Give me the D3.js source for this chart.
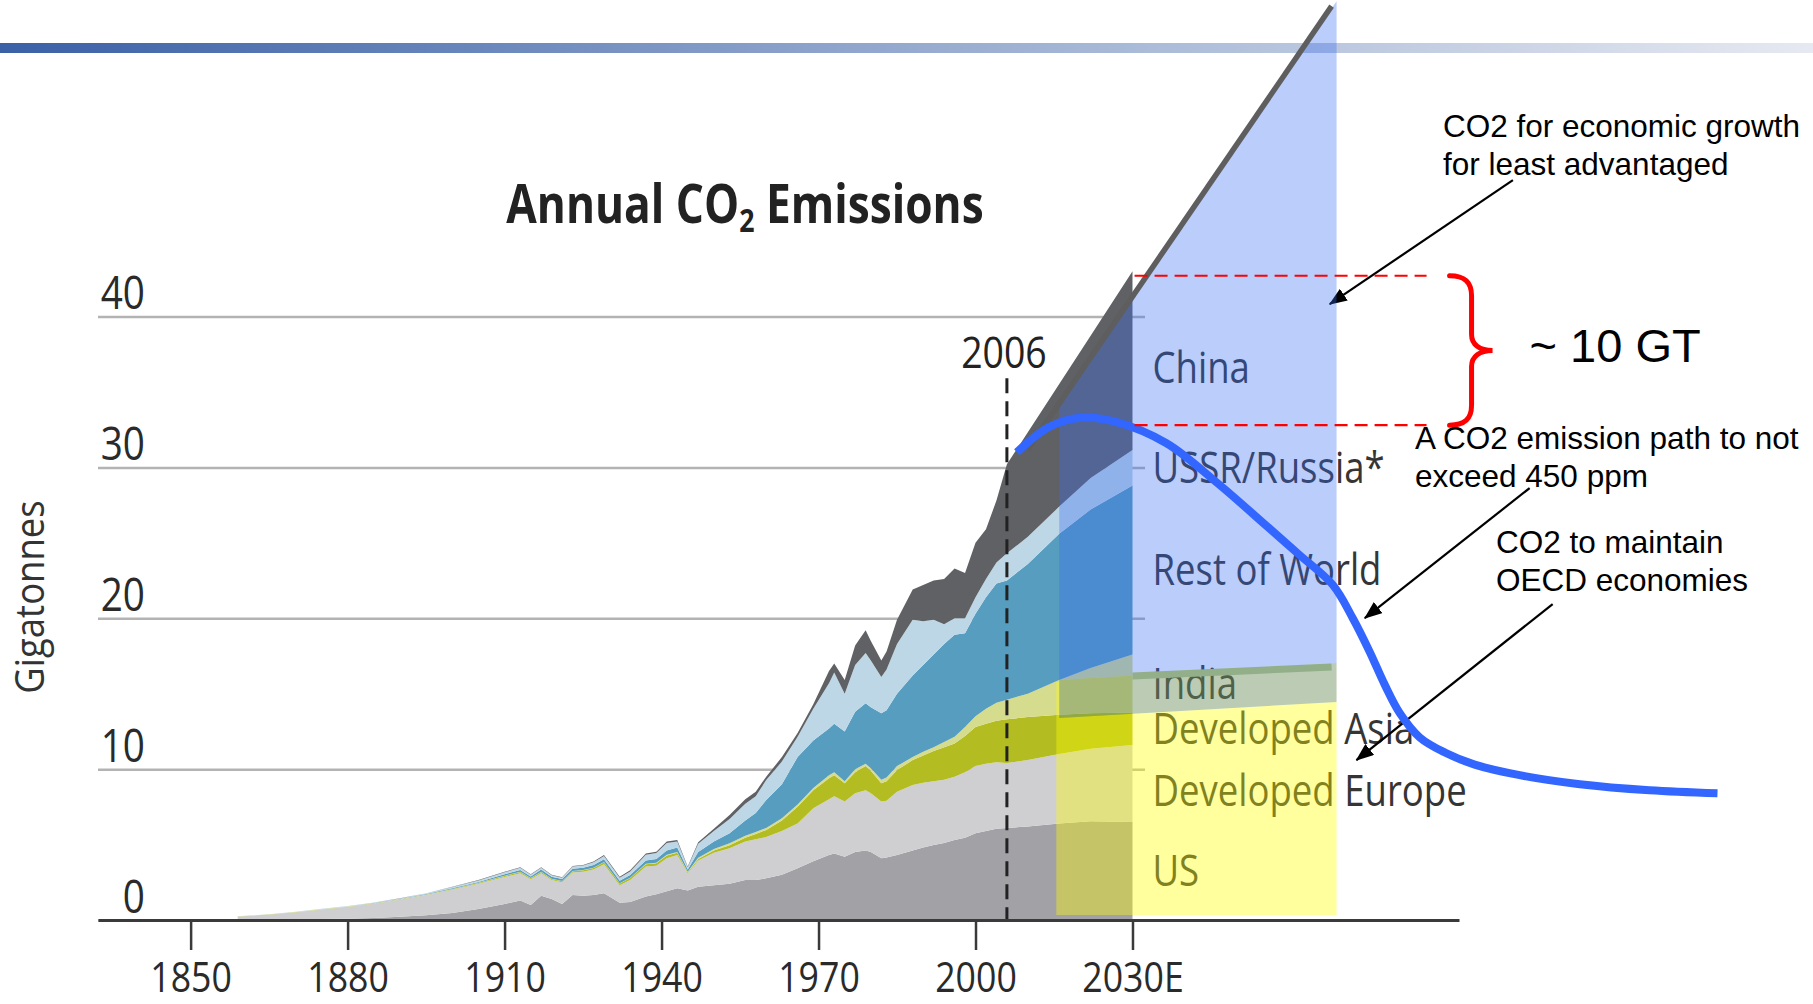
<!DOCTYPE html>
<html>
<head>
<meta charset="utf-8">
<script src="https://cdn.jsdelivr.net/npm/d3@7"></script>
<style>
  html, body { margin: 0; padding: 0; background: #fff; }
  svg { display: block; }
</style>
</head>
<body>
<svg id="chart" width="1813" height="1004"></svg>
<script>
// ---- Annual CO2 emissions by region, Gt (history to 2006, projection to 2030) ----
const years = [1859,1865,1870,1875,1880,1885,1890,1895,1900,1905,
               1910,1913,1915,1917,1919,1921,1923,1925,1927,1929,
               1932,1934,1937,1939,1941,1943,1945,1947,1950,1953,
               1956,1958,1960,1963,1966,1969,1972,1973,1975,1977,
               1979,1980,1982,1983,1985,1988,1990,1992,1994,1996,
               1998,2000,2002,2004,2006,2010,2016,2022,2030];

const us = [.02,.03,.05,.07,.09,.14,.22,.32,.46,.73,
            1.06,1.30,1.00,1.60,1.40,1.06,1.66,1.60,1.66,1.77,
            1.15,1.20,1.55,1.70,1.90,2.10,1.95,2.20,2.30,2.40,
            2.65,2.65,2.76,3.00,3.43,3.90,4.30,4.40,4.20,4.50,
            4.60,4.50,4.10,4.15,4.30,4.60,4.80,4.97,5.10,5.30,
            5.45,5.75,5.90,6.05,6.10,6.20,6.40,6.55,6.50];

const developedEurope = [.20,.32,.45,.61,.77,.94,1.12,1.33,1.54,1.67,
            1.79,1.80,1.70,1.50,1.25,1.44,1.49,1.60,1.69,1.93,
            1.15,1.45,2.00,1.90,2.20,2.20,1.15,1.75,2.15,2.35,
            2.55,2.70,2.74,2.90,2.97,3.50,3.70,3.80,3.65,3.90,
            4.00,3.90,3.75,3.75,4.20,4.35,4.30,4.23,4.20,4.20,
            4.35,4.45,4.45,4.40,4.30,4.40,4.60,4.80,5.10];

const developedAsia = [.01,.01,.02,.02,.02,.02,.02,.03,.04,.05,
            .07,.08,.06,.08,.07,.07,.08,.09,.10,.12,
            .12,.13,.15,.16,.18,.15,.06,.10,.15,.20,
            .25,.35,.47,.70,1.10,1.20,1.40,1.40,1.21,1.40,
            1.60,1.50,1.21,1.30,1.44,1.65,1.80,2.00,2.15,2.20,
            2.40,2.60,2.65,2.75,2.90,2.85,2.60,2.35,2.15];

const india = [.01,.01,.01,.01,.01,.01,.01,.01,.02,.02,
            .02,.02,.02,.02,.02,.02,.02,.02,.02,.02,
            .02,.02,.03,.03,.04,.05,.04,.07,.10,.13,
            .13,.13,.13,.15,.15,.15,.20,.20,.14,.20,
            .15,.15,.24,.25,.26,.20,.25,.25,.35,.45,
            .60,.70,1.00,1.20,1.30,1.55,2.30,3.00,3.85];

const restOfWorld = [.00,.00,.00,.01,.01,.02,.02,.03,.04,.05,
            .09,.12,.10,.15,.12,.13,.15,.15,.17,.18,
            .16,.18,.22,.26,.28,.30,.14,.38,.50,.67,
            1.02,1.27,1.85,2.25,3.15,3.15,3.10,3.20,3.30,3.80,
            4.01,4.05,4.40,4.45,4.80,5.40,5.75,6.15,6.50,6.75,
            6.20,6.80,7.40,7.90,7.90,8.60,9.70,10.50,11.20];

const ussrRussia = [.01,.01,.02,.02,.03,.03,.04,.05,.08,.10,
            .13,.14,.12,.12,.11,.08,.14,.15,.18,.22,
            .20,.24,.37,.39,.50,.40,.15,.55,.70,.95,
            1.10,1.10,1.33,1.50,1.35,2.10,3.00,3.40,2.50,3.10,
            3.34,3.10,2.40,2.70,3.30,3.70,2.90,2.30,1.30,1.10,
            1.00,1.10,1.20,1.40,1.80,1.80,1.80,2.10,2.35];

const china = [.00,.00,.00,.00,.00,.00,.01,.01,.02,.03,
            .04,.04,.03,.03,.03,.03,.04,.04,.05,.06,
            .07,.08,.08,.09,.10,.10,.05,.10,.15,.26,
            .30,.30,.22,.30,.25,.30,.80,.60,.90,1.30,
            1.50,1.30,1.10,1.20,1.60,2.00,2.40,2.60,3.00,3.30,
            3.00,3.60,3.30,4.10,5.90,6.93,8.13,9.43,11.85];

const seriesNames  = ["US", "Developed Europe", "Developed Asia", "India",
                      "Rest of World", "USSR/Russia*", "China"];
const seriesValues = [us, developedEurope, developedAsia, india, restOfWorld, ussrRussia, china];
const seriesColors = ["#a2a1a6", "#cfcfd1", "#b3bd22", "#d6dc8e", "#569dbf", "#bed7e6", "#606164"];

// axis ticks
const xTicks      = [1850, 1880, 1910, 1940, 1970, 2000, 2030];
const xTickLabels = ["1850", "1880", "1910", "1940", "1970", "2000", "2030E"];
const yTicks      = [0, 10, 20, 30, 40];
const markerYear  = 2006;

// 450 ppm emission path (year, Gt)
const pathYears  = [2007.9, 2014.2, 2020.5, 2027.0, 2036.5, 2046.1, 2055.7, 2061.9, 2068.3, 2072.1,
                    2075.3, 2078.2, 2081.1, 2084.9, 2089.7, 2095.4, 2104.0, 2115.5, 2128.8, 2141.8];
const pathValues = [31.0, 32.7, 33.3, 33.0, 31.6, 29.0, 26.1, 24.2, 22.2, 20.0,
                    17.8, 15.6, 13.7, 12.1, 11.1, 10.3, 9.6, 9.0, 8.6, 8.4];

// business-as-usual extension line (year, Gt)
const trendYears  = [2010, 2068.05];
const trendValues = [31.2, 60.57];

// shaded budget regions (year, Gt)
const growthZone   = [[2016.0, 34.3], [2069.0, 60.9], [2069.0, 17.03], [2016.0, 15.9]];
const indiaZone    = [[2016.0, 15.9], [2069.0, 17.03], [2069.0, 14.45], [2016.0, 13.39]];
const indiaEdge    = [[2030.0, 16.17], [2068.05, 16.77]];
const oecdZone     = [[2015.45, 15.77], [2016.0, 15.77], [2016.0, 13.39], [2069.0, 14.45],
                      [2069.0, 0.33], [2015.45, 0.33]];

// gap between projected 2030 total and the 450 ppm path peak
const gapLevels = [42.7, 32.8];
const gapSpan   = [2030.4, 2086.2];
const gapLabel  = "~ 10 GT";

// callouts: text lines, arrow from (year, Gt) to (year, Gt)
const callouts = [
  { lines: ["CO2 for economic growth", "for least advantaged"], from: [2102.7, 49.04], to: [2067.7, 40.82] },
  { lines: ["A CO2 emission path to not", "exceed 450 ppm"],       from: [2105.9, 28.63], to: [2074.4, 20.01] },
  { lines: ["CO2 to maintain", "OECD economies"],                  from: [2110.3, 20.94], to: [2072.8, 10.60] }
];

// ---------------------------------------------------------------------------
const svg = d3.select("#chart");
const chartFont = "'Open Sans', 'Noto Sans', 'DejaVu Sans', sans-serif";
const noteFont  = "'Liberation Sans', Arial, sans-serif";

const x = d3.scaleLinear().domain([1832.3, 2092.4]).range([98, 1459]);
const y = d3.scaleLinear().domain([0, 40]).range([920, 316.5]);
const pt = d => [x(d[0]), y(d[1])];

const defs = svg.append("defs");
const band = defs.append("linearGradient").attr("id", "band")
  .attr("x1", 0).attr("x2", 1).attr("y1", 0).attr("y2", 0);
band.append("stop").attr("offset", "0%").attr("stop-color", "#3a60a6");
band.append("stop").attr("offset", "50%").attr("stop-color", "#95aacf");
band.append("stop").attr("offset", "100%").attr("stop-color", "#e6e9f1");

defs.append("marker").attr("id", "head")
  .attr("viewBox", "0 0 18 14").attr("refX", 17).attr("refY", 7)
  .attr("markerWidth", 18).attr("markerHeight", 14)
  .attr("markerUnits", "userSpaceOnUse").attr("orient", "auto")
  .append("path").attr("d", "M0,0L18,7L0,14Z").attr("fill", "#000");

// slide header band
svg.append("rect").attr("x", 0).attr("y", 43).attr("width", 1813).attr("height", 10)
  .attr("fill", "url(#band)");

// y axis: gridlines + labels
const yAxis = svg.append("g").attr("transform", "translate(98,0)")
  .call(d3.axisLeft(y).tickValues(yTicks).tickSize(-(1145 - 98)).tickSizeOuter(0));
yAxis.select(".domain").remove();
yAxis.selectAll(".tick line").attr("stroke", "#b3b3b3").attr("stroke-width", 2.5);
yAxis.selectAll(".tick text")
  .attr("x", null).attr("dy", null)
  .attr("transform", "translate(47,-8) scale(0.86,1)")
  .attr("text-anchor", "end")
  .attr("font-family", chartFont).attr("font-size", 45).attr("fill", "#2a2a2a");

// stacked areas
const table = years.map((yr, i) => {
  const row = { year: yr };
  seriesNames.forEach((k, j) => row[k] = seriesValues[j][i]);
  return row;
});
const stacked = d3.stack().keys(seriesNames)(table);
const area = d3.area()
  .x(d => x(d.data.year)).y0(d => y(d[0])).y1(d => y(d[1]));
svg.append("g").selectAll("path").data(stacked).join("path")
  .attr("d", area).attr("fill", (d, i) => seriesColors[i]);

// region labels beside the 2030 column
const labelNudge = { "China": 7, "Developed Europe": 8 };
const last = stacked.map(s => s[s.length - 1]);
svg.append("g").selectAll("text").data(stacked).join("text")
  .attr("transform", (s, i) => {
    const mid = (last[i][0] + last[i][1]) / 2;
    return `translate(${x(2030) + 20},${y(mid) + 15 + (labelNudge[s.key] || 0)}) scale(0.85,1)`;
  })
  .attr("font-family", chartFont).attr("font-size", 43).attr("fill", "#353535")
  .text(s => s.key);

// 2006 marker
svg.append("line")
  .attr("x1", x(markerYear)).attr("x2", x(markerYear))
  .attr("y1", y(35.9)).attr("y2", y(0))
  .attr("stroke", "#222").attr("stroke-width", 3).attr("stroke-dasharray", "15,8");
svg.append("text")
  .attr("transform", `translate(${x(markerYear) - 3},${y(36.6)}) scale(0.87,1)`)
  .attr("text-anchor", "middle").attr("font-family", chartFont)
  .attr("font-size", 43).attr("fill", "#222").text(String(markerYear));

// callout arrows (first one sits under the shaded region)
const arrows = svg.append("g");
callouts.forEach(c => {
  const a = pt(c.from), b = pt(c.to);
  arrows.append("line").attr("x1", a[0]).attr("y1", a[1]).attr("x2", b[0]).attr("y2", b[1])
    .attr("stroke", "#000").attr("stroke-width", 2.2).attr("marker-end", "url(#head)");
});

// shaded regions
const poly = d3.line().x(d => x(d[0])).y(d => y(d[1]));
svg.append("path").attr("d", poly(oecdZone) + "Z").attr("fill", "rgb(255,255,0)").attr("fill-opacity", 0.38);
svg.append("path").attr("d", poly(indiaZone) + "Z").attr("fill", "rgb(110,145,95)").attr("fill-opacity", 0.47);
svg.append("path").attr("d", poly(growthZone) + "Z").attr("fill", "rgb(56,107,243)").attr("fill-opacity", 0.34);
svg.append("path").attr("d", poly(indiaEdge)).attr("stroke", "#92af89").attr("stroke-width", 7).attr("fill", "none");

// trend extension
svg.append("path")
  .attr("d", poly(trendYears.map((t, i) => [t, trendValues[i]])))
  .attr("stroke", "#5e5e5e").attr("stroke-width", 5.5).attr("fill", "none");

// 450 ppm path
svg.append("path")
  .attr("d", d3.line().curve(d3.curveCatmullRom.alpha(0.5))
    .x(d => x(d[0])).y(d => y(d[1]))(pathYears.map((t, i) => [t, pathValues[i]])))
  .attr("stroke", "#3366ff").attr("stroke-width", 8).attr("fill", "none");

// gap markers
svg.append("g").selectAll("line").data(gapLevels).join("line")
  .attr("x1", x(gapSpan[0])).attr("x2", x(gapSpan[1]))
  .attr("y1", d => y(d)).attr("y2", d => y(d))
  .attr("stroke", "#ff0000").attr("stroke-width", 2.2).attr("stroke-dasharray", "13,7");

const bx = x(gapSpan[1]) + 23, yt = y(gapLevels[0]), yb = y(gapLevels[1]), ym = (yt + yb) / 2;
svg.append("path")
  .attr("d", `M${bx},${yt} C${bx + 15},${yt} ${bx + 22},${yt + 6} ${bx + 22},${yt + 20}
              L${bx + 22},${ym - 16} C${bx + 22},${ym - 6} ${bx + 30},${ym} ${bx + 43},${ym}
              C${bx + 30},${ym} ${bx + 22},${ym + 6} ${bx + 22},${ym + 16}
              L${bx + 22},${yb - 20} C${bx + 22},${yb - 6} ${bx + 15},${yb} ${bx},${yb}`)
  .attr("stroke", "#ff0000").attr("stroke-width", 5).attr("fill", "none").attr("stroke-linecap", "round");
svg.append("text").attr("x", bx + 80).attr("y", ym + 12)
  .attr("font-family", noteFont).attr("font-size", 47).attr("fill", "#000").text(gapLabel);

// callout text
const notePos = [[1443, 137], [1415, 449], [1496, 553]];
callouts.forEach((c, i) => {
  const t = svg.append("text").attr("font-family", noteFont).attr("font-size", 31.5).attr("fill", "#000");
  c.lines.forEach((ln, j) => t.append("tspan").attr("x", notePos[i][0]).attr("y", notePos[i][1] + j * 38).text(ln));
});

// x axis
const xAxis = svg.append("g").attr("transform", "translate(0,920)")
  .call(d3.axisBottom(x).tickValues(xTicks).tickFormat((d, i) => xTickLabels[i])
    .tickSize(30).tickSizeOuter(0));
xAxis.select(".domain").attr("stroke", "#3a3a3a").attr("stroke-width", 3);
xAxis.selectAll(".tick line").attr("stroke", "#3a3a3a").attr("stroke-width", 2.5);
xAxis.selectAll(".tick text")
  .attr("y", null).attr("dy", null)
  .attr("transform", "translate(0,72) scale(0.85,1)")
  .attr("font-family", chartFont).attr("font-size", 42).attr("fill", "#2a2a2a");

// title and axis name
const title = svg.append("text")
  .attr("transform", "translate(745,223) scale(0.835,1)")
  .attr("text-anchor", "middle").attr("font-family", chartFont)
  .attr("font-size", 53).attr("font-weight", 700).attr("fill", "#222");
title.append("tspan").text("Annual CO");
title.append("tspan").attr("font-size", 32).attr("dy", 9).text("2");
title.append("tspan").attr("dy", -9).text(" Emissions");

svg.append("text")
  .attr("transform", "translate(44,597) rotate(-90) scale(0.89,1)")
  .attr("text-anchor", "middle").attr("font-family", chartFont)
  .attr("font-size", 41).attr("fill", "#333").text("Gigatonnes");
</script>
</body>
</html>
